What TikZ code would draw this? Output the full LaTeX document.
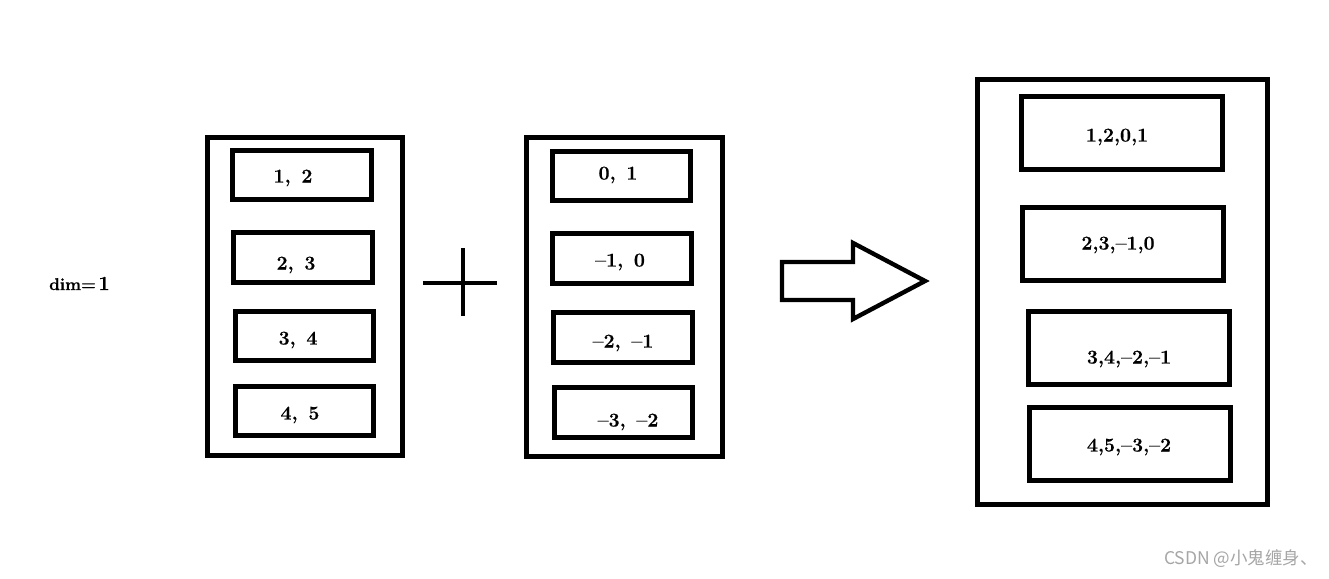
\documentclass[tikz,border=0pt]{standalone}
\usepackage{fontspec}
\setmainfont{Latin Modern Roman}[BoldFeatures={FakeBold=0.6}]
\newfontfamily\cjkfont{Noto Sans CJK SC}
\begin{document}
\begin{tikzpicture}[x=1pt,y=-1pt,
  frame/.style={draw=black,line width=4.6pt,inner sep=0pt,outer sep=0pt},
  cell/.style={draw=black,line width=4.6pt,inner sep=0pt,outer sep=0pt},
  val/.style={inner sep=0pt,text height=13pt,text depth=0pt,font=\fontsize{19.5}{21}\selectfont\bfseries},
  shapeline/.style={line width=4.4pt,line join=miter}
]
\useasboundingbox (0,0) rectangle (1329,578);
\fill[white] (0,0) rectangle (1329,578);

% dim label
\node[anchor=base west,inner sep=0pt] (dim) at (49,290) {\fontsize{17}{18}\selectfont\bfseries dim=\hspace{0.15em}\fontsize{20}{22}\selectfont 1};

% left stack
\node[frame,minimum width=195pt,minimum height=318pt] (L) at (305,296.5) {};
\node[cell,minimum width=139pt,minimum height=49pt] (L1) at (302,175) {};
\node[cell,minimum width=139pt,minimum height=50pt] (L2) at (303,257.5) {};
\node[cell,minimum width=138pt,minimum height=49pt] (L3) at (304.5,336) {};
\node[cell,minimum width=138pt,minimum height=49pt] (L4) at (304.5,411) {};
\node[val] (tL1) at (293,176) {1,\hspace{0.55em}2};
\node[val] (tL2) at (296,263) {2,\hspace{0.55em}3};
\node[val] (tL3) at (298,338) {3,\hspace{0.55em}4};
\node[val] (tL4) at (300,413) {4,\hspace{0.55em}5};

% plus sign
\draw[shapeline] (423,283) -- (497,283);
\draw[shapeline] (463,248) -- (463,316);

% middle stack
\node[frame,minimum width=196pt,minimum height=319pt] (M) at (624.5,297) {};
\node[cell,minimum width=138pt,minimum height=49pt] (M1) at (621.5,176) {};
\node[cell,minimum width=139pt,minimum height=50pt] (M2) at (622,258.5) {};
\node[cell,minimum width=139pt,minimum height=50pt] (M3) at (623,337.5) {};
\node[cell,minimum width=138pt,minimum height=50pt] (M4) at (623.5,412.5) {};
\node[val] (tM1) at (618,173) {0,\hspace{0.55em}1};
\node[val] (tM2) at (620,260) {--1,\hspace{0.55em}0};
\node[val] (tM3) at (623,341) {--2,\hspace{0.55em}--1};
\node[val] (tM4) at (628,420) {--3,\hspace{0.55em}--2};

% block arrow
\draw[shapeline] (782,262) -- (853,262) -- (853,243) -- (925,281) -- (853,319) -- (853,300) -- (782,300) -- cycle;

% right stack
\node[frame,minimum width=290pt,minimum height=425pt] (R) at (1122.5,292) {};
\node[cell,minimum width=201pt,minimum height=73pt] (R1) at (1122,133) {};
\node[cell,minimum width=201pt,minimum height=73pt] (R2) at (1123,244) {};
\node[cell,minimum width=201pt,minimum height=73pt] (R3) at (1129,348) {};
\node[cell,minimum width=201pt,minimum height=73pt] (R4) at (1130,444) {};
\node[val] (tR1) at (1117,135) {1,2,0,1};
\node[val] (tR2) at (1118,243) {2,3,--1,0};
\node[val] (tR3) at (1129,357) {3,4,--2,--1};
\node[val] (tR4) at (1129,445) {4,5,--3,--2};

% watermark
\node[anchor=east,inner sep=0pt,text=black!35] (wm) at (1318,559) {\cjkfont\fontsize{17.5}{19}\selectfont CSDN @小鬼缠身、};
\end{tikzpicture}
\end{document}
